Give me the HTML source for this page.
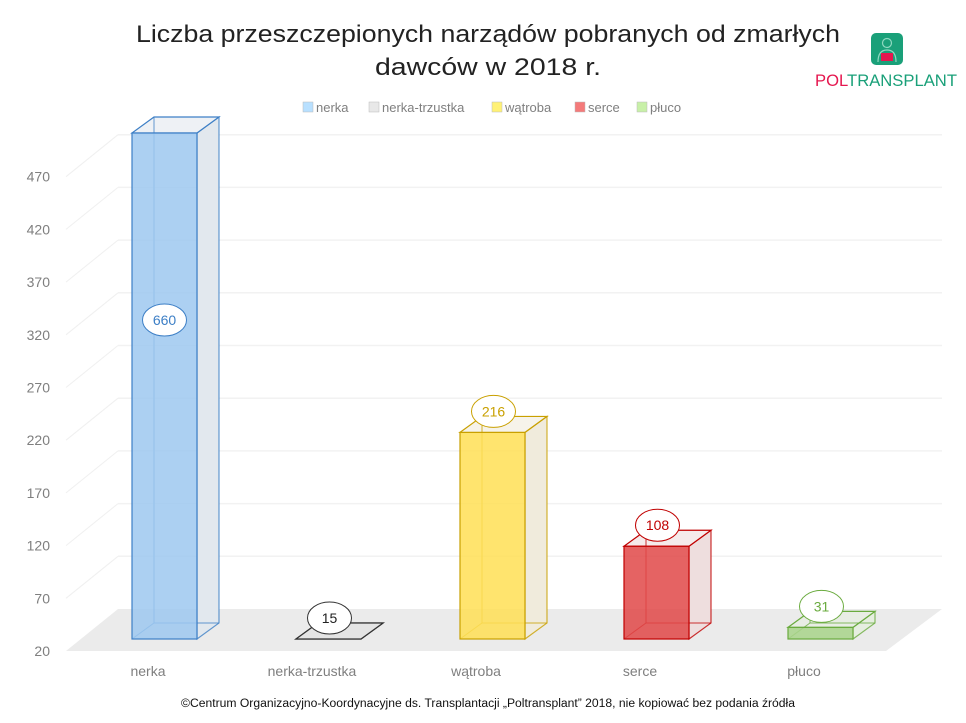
<!DOCTYPE html>
<html><head><meta charset="utf-8"><style>
html,body{margin:0;padding:0;background:#fff;}
svg{display:block;font-family:"Liberation Sans",sans-serif;}
</style></head><body>
<svg id="chart" width="966" height="723" viewBox="0 0 966 723" xmlns="http://www.w3.org/2000/svg">
<g>
<text x="488" y="42" text-anchor="middle" font-size="24" textLength="704" lengthAdjust="spacingAndGlyphs" fill="#222">Liczba przeszczepionych narządów pobranych od zmarłych</text>
<text x="488" y="75" text-anchor="middle" font-size="24" textLength="226" lengthAdjust="spacingAndGlyphs" fill="#222">dawców w 2018 r.</text>
</g>
<g>
<rect x="871" y="33" width="32" height="32" rx="5" fill="#1aa079"/>
<circle cx="887" cy="43" r="4.5" fill="none" stroke="#8fd8c0" stroke-width="1.2"/>
<path d="M878 62 Q878 50 887 50 Q896 50 896 62" fill="none" stroke="#8fd8c0" stroke-width="1.2"/>
<rect x="881" y="53" width="12" height="8" fill="#e5174f"/>
<text x="815" y="86" font-size="17" fill="#1aa079" textLength="142" lengthAdjust="spacingAndGlyphs"><tspan fill="#e5174f">POL</tspan>TRANSPLANT</text>
</g>
<g id="legend"></g>
<g id="grid"></g>
<polygon points="66,651 886,651 942,609 118,609" fill="#ebebeb"/>
<g id="yaxis"></g>
<g id="bars"></g>
<g id="xaxis"></g>
<text x="488" y="707" text-anchor="middle" font-size="11.5" fill="#111" textLength="614" lengthAdjust="spacingAndGlyphs">©Centrum  Organizacyjno-Koordynacyjne ds. Transplantacji „Poltransplant” 2018, nie kopiować bez podania źródła</text>
</svg>
<script>
const categories = ["nerka","nerka-trzustka","wątroba","serce","płuco"];
const values = [660,15,216,108,31];
const yTicks = [20,70,120,170,220,270,320,370,420,470];
const fills = ["#9ec8f0","#e4e4e4","#ffdf55","#e04848","#a8d48a"];
const strokes = ["#3d7fc6","#333333","#c9a000","#c00000","#6aab3e"];
const sideFills = ["#e2e8ee","#ebebeb","#f0ebdc","#eedede","#e6eee0"];
const legendSw = ["#b8e0ff","#e8e8e8","#fff176","#f47a7a","#c8f0a8"];

const NS="http://www.w3.org/2000/svg";
function mk(tag,attrs,parent){const e=document.createElementNS(NS,tag);for(const k in attrs)e.setAttribute(k,attrs[k]);parent.appendChild(e);return e;}
const yMin=20, pxPer=52.7/50, frontBase=639, backBase=609, plotTopFront=133;
const DX=22, DY=-16, BW=65;
function yFront(v){return Math.max(plotTopFront, frontBase-(Math.max(v,yMin)-yMin)*pxPer);}
function yBack(v){return backBase-(v-yMin)*pxPer;}
function xCat(i){return 132+i*164;}

const grid=document.getElementById('grid');
yTicks.forEach((t,i)=>{
  if(i===0) return;
  const yb=yBack(t);
  const l1=mk('line',{x1:66,y1:yb+42,x2:118,y2:yb,stroke:'#f0f0f0','stroke-width':1},grid);
  
  
  const l2=mk('line',{x1:118,y1:yb,x2:942,y2:yb,stroke:'#f2f2f2','stroke-width':1.5},grid);
  
  
});
const ya=document.getElementById('yaxis');
yTicks.forEach(t=>{
  const tx=mk('text',{x:50,y:yBack(t)+42+5,'text-anchor':'end','font-size':14,fill:'#7f7f7f'},ya);
  tx.textContent=t;
  
  
});
const bars=document.getElementById('bars');
values.forEach((v,i)=>{
  const x=xCat(i), yt=yFront(v), yb=frontBase;
  const g=mk('g',{},bars);
  
  
  const s=strokes[i];
  mk('polygon',{points:`${x+BW},${yb} ${x+BW+DX},${yb+DY} ${x+BW+DX},${yt+DY} ${x+BW},${yt}`,fill:sideFills[i],stroke:s,'stroke-width':1.2,'stroke-opacity':0.8},g);
  mk('polygon',{points:`${x},${yt} ${x+DX},${yt+DY} ${x+BW+DX},${yt+DY} ${x+BW},${yt}`,fill:sideFills[i],'fill-opacity':0.6,stroke:s,'stroke-width':1.2},g);
  mk('polyline',{points:`${x},${yb} ${x+DX},${yb+DY} ${x+BW+DX},${yb+DY}`,fill:'none',stroke:s,'stroke-width':1,'stroke-opacity':0.8},g);
  mk('line',{x1:x+DX,y1:yb+DY,x2:x+DX,y2:yt+DY,stroke:s,'stroke-width':1,'stroke-opacity':0.8},g);
  if(yb-yt>0.5) mk('rect',{x:x,y:yt,width:BW,height:yb-yt,fill:fills[i],'fill-opacity':0.85,stroke:s,'stroke-width':1.2},g);
  else mk('polygon',{points:`${x},${yb} ${x+DX},${yb+DY} ${x+BW+DX},${yb+DY} ${x+BW},${yb}`,fill:fills[i],stroke:s,'stroke-width':1.2},g);
  const clipped = yt<=plotTopFront+0.1;
  const ly = clipped ? 320 : yt-21;
  const lx = x+BW/2 + (clipped?0:1);
  const lg=mk('g',{},bars);
  
  
  mk('ellipse',{cx:lx,cy:ly,rx:22,ry:16,fill:'#fff',stroke:s,'stroke-width':1},lg);
  const tx=mk('text',{x:lx,y:ly+5,'text-anchor':'middle','font-size':14,fill:i===1?'#222':s},lg);
  tx.textContent=v;
});
const xa=document.getElementById('xaxis');
categories.forEach((c,i)=>{
  const tx=mk('text',{x:xCat(i)+16,y:676,'text-anchor':'middle','font-size':14,fill:'#7f7f7f'},xa);
  tx.textContent=c;
  
  
});
const lg=document.getElementById('legend');
const legX=[303,369,492,575,637];
categories.forEach((c,i)=>{
  const g=mk('g',{},lg);
  
  
  mk('rect',{x:legX[i],y:102,width:10,height:10,fill:legendSw[i],stroke:'#bbb','stroke-width':0.5},g);
  const t=mk('text',{x:legX[i]+13,y:112,'font-size':13,fill:'#7f7f7f'},g);
  t.textContent=c;
});
</script>
</body></html>
